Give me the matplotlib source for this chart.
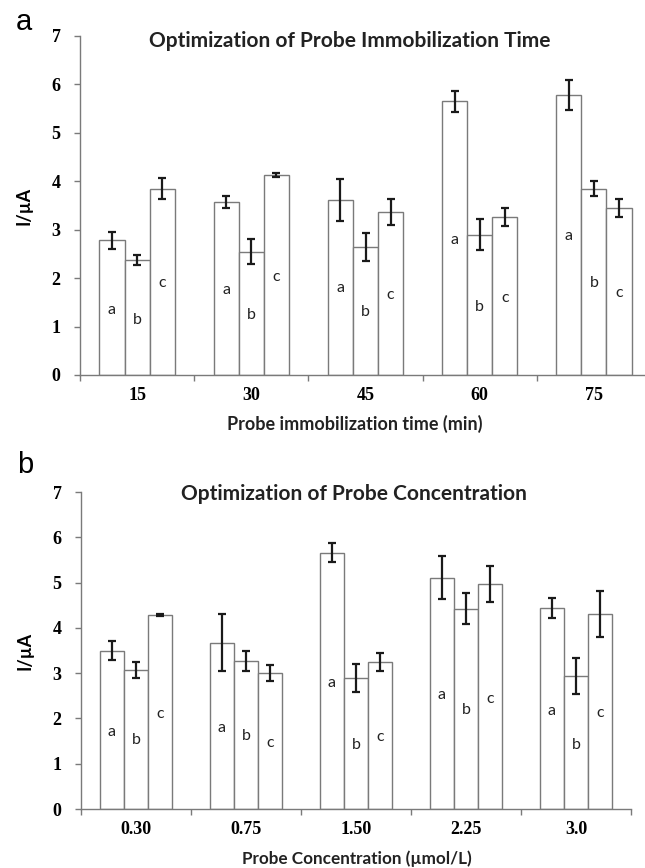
import matplotlib
matplotlib.use("Agg")
import matplotlib.pyplot as plt
import numpy as np

# ---- data ----
time_labels = ["15", "30", "45", "60", "75"]
time_a = [2.78, 3.57, 3.61, 5.65, 5.79]
time_a_err = [0.17, 0.13, 0.43, 0.22, 0.31]
time_b = [2.37, 2.55, 2.65, 2.90, 3.85]
time_b_err = [0.10, 0.25, 0.29, 0.32, 0.16]
time_c = [3.85, 4.13, 3.37, 3.26, 3.45]
time_c_err = [0.21, 0.05, 0.27, 0.18, 0.18]
time_lab_a = [1.34, 1.76, 1.80, 2.79, 2.86]
time_lab_b = [1.14, 1.24, 1.31, 1.41, 1.89]
time_lab_c = [1.90, 2.03, 1.65, 1.58, 1.69]

conc_labels = ["0.30", "0.75", "1.50", "2.25", "3.0"]
conc_a = [3.50, 3.67, 5.66, 5.11, 4.43]
conc_a_err = [0.21, 0.63, 0.21, 0.47, 0.22]
conc_b = [3.07, 3.27, 2.90, 4.42, 2.94]
conc_b_err = [0.18, 0.23, 0.31, 0.34, 0.39]
conc_c = [4.28, 3.00, 3.25, 4.96, 4.31]
conc_c_err = [0.02, 0.17, 0.20, 0.40, 0.51]
conc_lab_a = [1.71, 1.78, 2.79, 2.52, 2.17]
conc_lab_b = [1.52, 1.61, 1.41, 2.19, 1.41]
conc_lab_c = [2.09, 1.46, 1.58, 2.44, 2.11]

letters = ["a", "b", "c"]

W, H = 645, 868
fig = plt.figure(figsize=(W / 100, H / 100), dpi=100)

SANS = ["Lato", "DejaVu Sans"]
SERIF = "Liberation Serif"
GRAY = "#7a7a7a"


def panel(rect, cats, series, errs, labpos, title, title_x, title_y):
    ax = fig.add_axes(rect)
    x = np.arange(len(cats))
    w = 0.22
    for k, (vals, er, lp) in enumerate(zip(series, errs, labpos)):
        xs = x + (k - 1) * w
        ax.bar(xs, vals, width=w, color="white", edgecolor=GRAY, linewidth=1.0, zorder=2)
        ax.errorbar(xs, vals, yerr=er, fmt="none", ecolor="#1a1a1a", elinewidth=1.6,
                    capsize=2.6, capthick=1.6, zorder=3)
        for xi, yi in zip(xs, lp):
            ax.text(xi, yi, letters[k], ha="center", va="center", fontsize=11.5,
                    family=SANS, color="#222222", zorder=4)
    ax.set_xlim(-0.5, len(cats) - 0.5)
    ax.set_ylim(0, 7)
    ax.set_yticks(range(0, 8))
    ax.set_yticklabels([str(v) for v in range(0, 8)], family=SERIF, fontweight="bold",
                       fontsize=13)
    ax.set_xticks(x)
    ax.set_xticklabels(cats, family=SERIF, fontweight="bold", fontsize=13)
    ax.set_xticks(np.arange(len(cats) + 1) - 0.5, minor=True)
    ax.tick_params(axis="x", which="major", length=0, pad=9)
    ax.tick_params(axis="x", which="minor", length=4, color=GRAY, width=1)
    ax.tick_params(axis="y", length=4, color=GRAY, width=1, pad=10)
    for s in ["top", "right"]:
        ax.spines[s].set_visible(False)
    for s in ["left", "bottom"]:
        ax.spines[s].set_color(GRAY)
        ax.spines[s].set_linewidth(1.0)
    fig.text(title_x / W, 1 - title_y / H, title, family=SANS, fontsize=15,
             fontweight="bold", color="#222222", ha="center", va="center")
    ax.set_ylabel("I/\u00b5A", family=SANS, fontsize=13, fontweight="bold", labelpad=14)
    return ax


ax1 = panel([80 / W, 1 - 375 / H, 571 / W, 339 / H], time_labels,
            [time_a, time_b, time_c], [time_a_err, time_b_err, time_c_err],
            [time_lab_a, time_lab_b, time_lab_c],
            "Optimization of Probe Immobilization Time", 350, 41)
ax2 = panel([81 / W, 1 - 809 / H, 550 / W, 317 / H], conc_labels,
            [conc_a, conc_b, conc_c], [conc_a_err, conc_b_err, conc_c_err],
            [conc_lab_a, conc_lab_b, conc_lab_c],
            "Optimization of Probe Concentration", 354, 494)

fig.text(355 / W, 1 - 424 / H, "Probe immobilization time (min)", family=SANS, fontsize=13,
         fontweight="bold", ha="center", va="center", color="#222222")
fig.text(357 / W, 1 - 859 / H, "Probe Concentration (\u00b5mol/L)", family=SANS, fontsize=12.3,
         fontweight="bold", ha="center", va="center", color="#222222")
fig.text(24 / W, 1 - 22 / H, "a", family="Liberation Sans", fontsize=21, ha="center",
         va="center")
fig.text(25 / W, 1 - 465 / H, "b", family="Liberation Sans", fontsize=21, ha="center",
         va="center")

fig.savefig("out.png", dpi=100)
